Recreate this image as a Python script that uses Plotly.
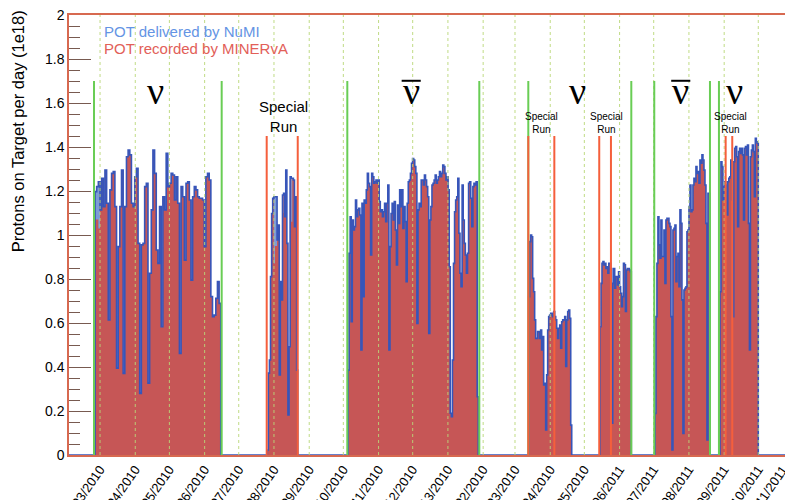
import plotly.graph_objects as go
from datetime import date

# ---------------- data ----------------
ORIGIN = date(2010, 3, 1)
month_starts = [(2010, 3), (2010, 4), (2010, 5), (2010, 6), (2010, 7), (2010, 8), (2010, 9),
                (2010, 10), (2010, 11), (2010, 12), (2011, 1), (2011, 2), (2011, 3), (2011, 4),
                (2011, 5), (2011, 6), (2011, 7), (2011, 8), (2011, 9), (2011, 10), (2011, 11)]
tick_labels = ["03/2010", "04/2010", "05/2010", "06/2010", "07/2010", "08/2010", "09/2010",
               "10/2010", "11/2010", "12/2010", "13/2010", "02/2010", "03/2010", "04/2010",
               "05/2010", "06/2011", "07/2011", "08/2011", "09/2011", "10/2011", "11/2011"]

# days since 2010-03-01 of each run's first and last day
run_start_days = [-4.4, 147.1, 218.1, 377.0, 439.8, 488.1, 545.3]
run_end_days = [106.2, 173.9, 332.7, 414.9, 467.3, 536.5, 579.0]

# POT delivered by NuMI per day (1e18), per run
delivered_run1 = [1.197, 1.22, 1.242, 1.114, 1.258, 1.129, 1.295, 1.144, 0.614, 1.205, 1.28, 1.288,
                  1.129, 0.394, 0.947, 1.129, 1.295, 0.371, 1.129, 1.356, 1.386, 1.364, 1.144, 1.129,
                  1.265, 1.303, 0.962, 0.28, 0.955, 0.962, 1.22, 1.235, 0.326, 0.826, 1.114, 1.386,
                  1.28, 0.932, 0.871, 1.129, 0.583, 1.174, 1.114, 1.371, 1.22, 1.235, 1.28, 1.273,
                  1.159, 1.265, 1.144, 0.462, 1.22, 1.174, 0.886, 1.235, 1.242, 1.159, 0.795, 1.174,
                  1.22, 1.205, 1.174, 1.167, 1.167, 1.159, 0.947, 1.265, 1.28, 1.25, 0.72, 0.629,
                  0.636, 0.712, 0.788, 0.689]
delivered_run2 = [0.023, 0.372, 0.432, 0.811, 1.098, 1.167, 1.174, 1.174, 1.174, 0.977, 1.045, 0.364,
                  0.788, 0.705, 1.182, 1.189, 1.083, 1.295, 0.962, 0.182, 0.492, 1.265, 1.258, 1.258,
                  1.25, 1.038, 1.174, 0.386]
delivered_run3 = [0.386, 0.917, 1.083, 0.606, 1.068, 1.023, 1.038, 1.159, 1.083, 1.114, 1.121, 1.091,
                  0.477, 1.144, 0.72, 1.159, 1.144, 1.205, 1.28, 1.235, 1.22, 0.909, 1.28, 1.265,
                  1.235, 1.242, 1.25, 1.235, 1.25, 1.152, 1.106, 1.114, 1.083, 1.106, 1.144, 1.061,
                  1.144, 1.227, 0.477, 0.947, 1.098, 1.144, 1.068, 1.152, 1.023, 0.864, 1.136, 1.053,
                  1.205, 1.129, 1.205, 1.03, 1.129, 1.061, 0.788, 1.144, 1.242, 1.25, 1.28, 1.326,
                  1.348, 1.341, 1.311, 1.28, 0.598, 1.114, 1.144, 1.129, 1.25, 1.25, 1.227, 1.273,
                  1.25, 1.22, 1.174, 0.553, 1.068, 1.129, 1.227, 1.235, 1.25, 1.273, 1.235, 1.25,
                  1.265, 1.288, 1.265, 1.28, 1.318, 1.311, 1.28, 1.25, 1.265, 1.205, 0.856, 0.19,
                  0.174, 0.432, 0.871, 1.106, 1.159, 1.174, 1.258, 1.008, 0.826, 0.765, 1.227, 1.068,
                  0.962, 0.909, 0.826, 0.917, 1.235, 1.242, 1.167, 1.038, 1.22, 1.235, 1.227, 1.242,
                  0.265]
delivered_run4 = [0.72, 0.97, 1.0, 0.992, 0.803, 0.742, 0.614, 0.53, 0.53, 0.561, 0.561, 0.53, 0.568,
                  0.477, 0.538, 0.318, 0.326, 0.114, 0.364, 0.568, 0.629, 0.636, 0.644, 0.644, 0.629,
                  0.652, 0.629, 0.614, 0.576, 0.53, 0.576, 0.591, 0.485, 0.606, 0.614, 0.614, 0.629,
                  0.402, 0.614, 0.652, 0.659, 0.621, 0.136]
delivered_run5 = [0.583, 0.78, 0.871, 0.879, 0.864, 0.871, 0.848, 0.856, 0.826, 0.871, 0.871, 0.848,
                  0.144, 0.78, 0.848, 0.758, 0.811, 0.811, 0.773, 0.833, 0.765, 0.735, 0.674, 0.72,
                  0.871, 0.864, 0.652, 0.841, 0.848, 0.848, 0.841, 0.833]
delivered_run6 = [0.189, 0.629, 0.871, 1.083, 0.955, 0.894, 1.068, 0.902, 0.902, 1.023, 0.78, 1.068,
                  1.076, 1.076, 1.053, 1.038, 0.629, 0.023, 1.023, 1.03, 1.045, 0.788, 0.902, 0.917,
                  0.765, 1.114, 1.053, 0.705, 0.098, 0.75, 0.758, 0.765, 1.015, 1.023, 1.129, 1.227,
                  1.106, 1.114, 1.227, 1.258, 1.242, 1.311, 1.28, 1.288, 1.235, 1.341, 1.326, 1.364,
                  1.341, 1.295, 1.227, 1.053, 0.068, 1.189, 1.189]
delivered_run7 = [0.742, 1.333, 1.311, 1.159, 1.22, 1.242, 1.227, 1.091, 1.242, 1.258, 1.265, 1.341,
                  1.159, 0.629, 1.333, 1.394, 1.402, 1.356, 1.038, 1.379, 1.394, 1.371, 1.394, 1.364,
                  1.068, 1.394, 1.402, 1.364, 1.409, 1.053, 0.477, 1.356, 1.386, 1.409, 1.379, 1.174,
                  1.439, 1.424, 1.417]

# POT recorded by MINERvA: days where it falls below the delivered value (run index, bin index, value)
recorded_shortfalls = [(0, 0, 1.07), (0, 1, 1.07), (0, 2, 1.03),
                       (1, 6, 0.87), (1, 7, 0.95), (1, 8, 0.95), (1, 15, 1.10), (1, 22, 1.06)]

# beam-mode boundaries (green) and special-run boundaries (red), in days
mode_change_days = [-5.3, 107.0, 217.5, 333.6, 376.7, 467.3, 487.5, 536.5, 544.4]
special_run_days = [146.6, 173.9, 376.7, 399.6, 439.1, 449.4, 550.3, 556.1]

# labels: (day, has_bar)
nu_labels = [(49.1, False), (273.7, True), (420.0, False), (510.8, True), (557.8, False)]
special_big = [161.4]
special_small = [388.1, 445.2, 554.7]

X_MIN, X_MAX = -27.3, 602.5

# ---------------- build histograms ----------------
delivered_runs = [delivered_run1, delivered_run2, delivered_run3, delivered_run4,
                  delivered_run5, delivered_run6, delivered_run7]
recorded_runs = [list(r) for r in delivered_runs]
for ri, bi, v in recorded_shortfalls:
    recorded_runs[ri][bi] = v


def step_series(runs):
    xs, ys = [X_MIN], [0.0]
    for s, e, vals in zip(run_start_days, run_end_days, runs):
        w = (e - s) / len(vals)
        for i, v in enumerate(vals):
            xs.append(s + i * w)
            ys.append(v)
        xs.append(e)
        ys.append(0.0)
    xs.append(X_MAX)
    ys.append(0.0)
    return xs, ys


dx, dy = step_series(delivered_runs)
rx, ry = step_series(recorded_runs)

FONT = "Liberation Sans, Arial, sans-serif"
fig = go.Figure()
fig.add_trace(go.Scatter(x=dx, y=dy, mode="lines", line=dict(shape="hv", width=0),
                         fill="tozeroy", fillcolor="rgb(125,155,215)", hoverinfo="skip"))
fig.add_trace(go.Scatter(x=rx, y=ry, mode="lines", line=dict(shape="hv", width=0),
                         fill="tozeroy", fillcolor="rgb(198,86,86)", hoverinfo="skip"))
fig.add_trace(go.Scatter(x=dx, y=dy, mode="lines",
                         line=dict(shape="hv", width=1.6, color="rgb(55,85,185)"),
                         hoverinfo="skip"))

tick_days = [(date(y, m, 1) - ORIGIN).days for y, m in month_starts]

shapes = []
for d in tick_days:
    if X_MIN <= d <= X_MAX:
        shapes.append(dict(type="line", xref="x", yref="y", x0=d, x1=d, y0=0, y1=2,
                           line=dict(color="rgba(185,215,120,0.9)", width=1, dash="dot"),
                           layer="above"))
for d in mode_change_days:
    shapes.append(dict(type="line", xref="x", yref="y", x0=d, x1=d, y0=0, y1=1.7,
                       line=dict(color="rgb(105,205,85)", width=2), layer="above"))
for d in special_run_days:
    shapes.append(dict(type="line", xref="x", yref="y", x0=d, x1=d, y0=0, y1=1.45,
                       line=dict(color="rgb(245,95,60)", width=2), layer="above"))

annotations = []
for d, bar in nu_labels:
    annotations.append(dict(x=d, y=1.654, xref="x", yref="y", text="ν", showarrow=False,
                            font=dict(family="Liberation Serif, Times New Roman, serif",
                                      size=38, color="black"),
                            xanchor="center", yanchor="middle"))
    if bar:
        shapes.append(dict(type="line", xref="x", yref="y", x0=d - 8.4, x1=d + 8.4,
                           y0=1.701, y1=1.701, line=dict(color="black", width=2)))
for d in special_big:
    annotations.append(dict(x=d, y=1.539, xref="x", yref="y", text="Special<br>Run",
                            showarrow=False, font=dict(family=FONT, size=15, color="black"),
                            xanchor="center", yanchor="middle"))
for d in special_small:
    annotations.append(dict(x=d, y=1.511, xref="x", yref="y", text="Special<br>Run",
                            showarrow=False, font=dict(family=FONT, size=10, color="black"),
                            xanchor="center", yanchor="middle"))

annotations.append(dict(x=0.0458, y=0.9615, xref="paper", yref="paper",
                        text="POT delivered by NuMI", showarrow=False,
                        font=dict(family=FONT, size=15, color="rgb(100,148,228)"),
                        xanchor="left", yanchor="middle"))
annotations.append(dict(x=0.0458, y=0.9235, xref="paper", yref="paper",
                        text="POT recorded by MINERvA", showarrow=False,
                        font=dict(family=FONT, size=15, color="rgb(226,96,88)"),
                        xanchor="left", yanchor="middle"))
annotations.append(dict(x=-0.0712, y=0.736, xref="paper", yref="paper",
                        text="Protons on Target per day (1e18)", showarrow=False, textangle=-90,
                        font=dict(family=FONT, size=16.5, color="black"),
                        xanchor="center", yanchor="middle"))

# last month label lies just past the visible frame edge
last_frac = (tick_days[-1] - X_MIN) / (X_MAX - X_MIN)
annotations.append(dict(x=last_frac, y=-0.012, xref="paper", yref="paper", text=tick_labels[-1],
                        showarrow=False, textangle=-55,
                        font=dict(family=FONT, size=13, color="black"),
                        xanchor="right", yanchor="top"))

fig.update_layout(
    width=785, height=500,
    margin=dict(l=69, r=0, t=15, b=45, autoexpand=False),
    paper_bgcolor="white", plot_bgcolor="white",
    showlegend=False,
    shapes=shapes, annotations=annotations,
    xaxis=dict(range=[X_MIN, X_MAX], tickmode="array", tickvals=tick_days, ticktext=tick_labels,
               tickangle=-55, tickfont=dict(family=FONT, size=13, color="black"),
               showgrid=False, zeroline=False, showline=True, mirror=True, automargin=False,
               linecolor="rgb(215,105,80)", linewidth=1.5, ticks=""),
    yaxis=dict(range=[0, 2], dtick=0.2, tick0=0, ticks="inside", ticklen=22, tickwidth=1,
               tickcolor="rgb(120,90,80)", automargin=False,
               minor=dict(dtick=0.05, ticks="inside", ticklen=11, tickcolor="rgb(120,90,80)"),
               tickfont=dict(family=FONT, size=14, color="black"),
               showgrid=False, zeroline=False, showline=True, linecolor="rgb(215,105,80)",
               linewidth=1.5),
)

fig.write_html("out.html", config={"displayModeBar": False},
               post_script="document.body.style.margin='0';document.body.style.overflow='hidden';")
